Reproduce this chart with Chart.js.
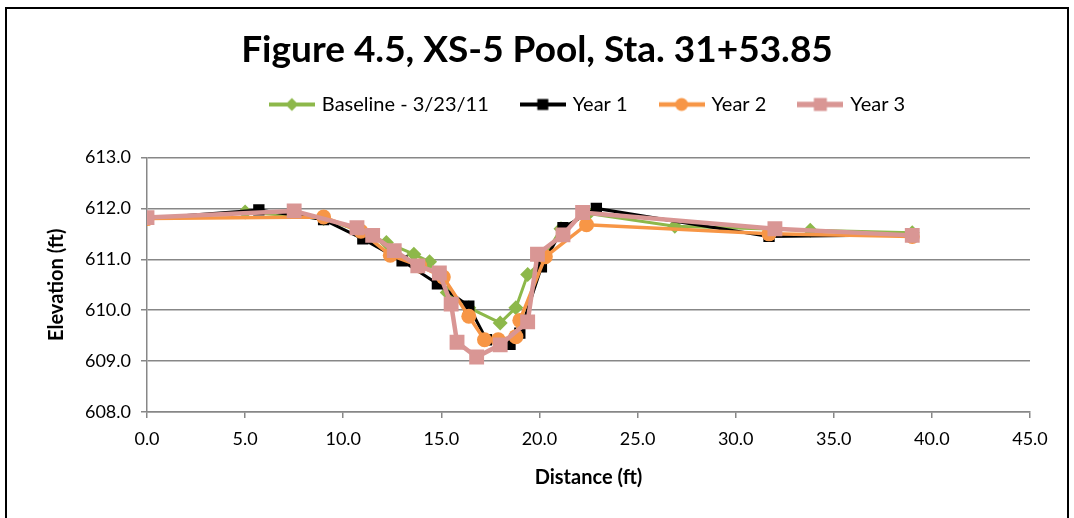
<!DOCTYPE html>
<html>
<head>
<meta charset="utf-8">
<script src="https://cdn.jsdelivr.net/npm/chart.js@4.4.1/dist/chart.umd.min.js"></script>
<style>
  html, body { margin: 0; padding: 0; background: #fff; overflow: hidden; }
  #wrap { position: relative; width: 1074px; height: 518px; }
  #frame { position: absolute; left: 5px; top: 7px; width: 1064px; height: 540px; border: 2px solid #000; box-sizing: border-box; pointer-events: none; }
  canvas { position: absolute; left: 0; top: 0; }
</style>
</head>
<body>
<div id="wrap">
  <canvas id="chart" width="1074" height="518"></canvas>
  <div id="frame"></div>
</div>
<script>
// Cross-section survey data (distance in ft, elevation in ft)
const baselineX = [0, 5.0, 9.0, 10.9, 12.2, 13.6, 14.4, 15.3, 16.4, 18.0, 18.8, 19.4, 20.1, 21.1, 22.5, 26.9, 33.8, 39.0];
const baselineY = [611.80, 611.93, 611.80, 611.55, 611.33, 611.10, 610.95, 610.35, 610.05, 609.75, 610.05, 610.70, 610.95, 611.60, 611.90, 611.65, 611.57, 611.52];

const year1X = [0, 5.7, 9.0, 11.0, 13.0, 14.8, 16.4, 17.3, 18.5, 19.0, 20.1, 21.2, 22.9, 31.7, 39.0];
const year1Y = [611.80, 611.97, 611.78, 611.40, 610.97, 610.52, 610.08, 609.42, 609.33, 609.55, 610.85, 611.62, 612.00, 611.45, 611.48];

const year2X = [0, 9.0, 10.9, 12.4, 13.9, 15.1, 16.4, 17.2, 17.9, 18.8, 19.0, 20.3, 22.4, 31.7, 39.0];
const year2Y = [611.80, 611.83, 611.55, 611.08, 610.87, 610.65, 609.88, 609.42, 609.42, 609.48, 609.80, 611.05, 611.68, 611.50, 611.45];

const year3X = [0, 7.5, 10.7, 11.5, 12.6, 13.8, 14.9, 15.5, 15.8, 16.8, 18.0, 19.4, 19.9, 21.2, 22.2, 32.0, 39.0];
const year3Y = [611.82, 611.95, 611.62, 611.47, 611.17, 610.87, 610.73, 610.12, 609.37, 609.08, 609.32, 609.77, 611.10, 611.48, 611.92, 611.60, 611.47];

const seriesNames = ['Baseline - 3/23/11', 'Year 1', 'Year 2', 'Year 3'];
const xTicks = [0, 5, 10, 15, 20, 25, 30, 35, 40, 45];
const yTicks = [608, 609, 610, 611, 612, 613];

const toPoints = (xs, ys) => xs.map((x, i) => ({ x: x, y: ys[i] }));

const FONT = "Lato, 'Open Sans', sans-serif";
const GRID = '#878787';

// Legend swatch: short line with the marker in the middle
function makeSwatch(color, style, size, lineW) {
  const c = document.createElement('canvas');
  c.width = 46; c.height = 18;
  const ctx = c.getContext('2d');
  ctx.strokeStyle = color;
  ctx.fillStyle = color;
  ctx.lineWidth = lineW;
  ctx.beginPath();
  ctx.moveTo(0, 9); ctx.lineTo(46, 9);
  ctx.stroke();
  const r = size / 2;
  ctx.beginPath();
  if (style === 'circle') {
    ctx.arc(23, 9, r, 0, Math.PI * 2);
  } else if (style === 'rectRot') {
    ctx.moveTo(23, 9 - r); ctx.lineTo(23 + r, 9); ctx.lineTo(23, 9 + r); ctx.lineTo(23 - r, 9); ctx.closePath();
  } else {
    ctx.rect(23 - r, 9 - r, size, size);
  }
  ctx.fill();
  return c;
}

const styles = [
  { color: '#8db84a', point: 'rectRot', radius: 7.5, lineW: 3, sw: 13, order: 3 },
  { color: '#000000', point: 'rect', radius: 8, lineW: 3, sw: 11, order: 2 },
  { color: '#f79646', point: 'circle', radius: 7.5, lineW: 3.5, sw: 13, order: 1 },
  { color: '#d99694', point: 'rect', radius: 10.5, lineW: 4.5, sw: 13, order: 0 }
];

const rawData = [
  toPoints(baselineX, baselineY),
  toPoints(year1X, year1Y),
  toPoints(year2X, year2Y),
  toPoints(year3X, year3Y)
];

const datasets = rawData.map((pts, i) => ({
  label: seriesNames[i],
  data: pts,
  order: styles[i].order,
  borderColor: styles[i].color,
  backgroundColor: styles[i].color,
  borderWidth: styles[i].lineW,
  pointStyle: styles[i].point,
  pointRadius: styles[i].radius,
  pointBorderWidth: 0,
  pointBackgroundColor: styles[i].color,
  tension: 0,
  fill: false
}));

const swatches = styles.map(s => makeSwatch(s.color, s.point, s.sw, s.lineW + 1));

new Chart(document.getElementById('chart'), {
  type: 'line',
  data: { datasets: datasets },
  options: {
    responsive: false,
    animation: false,
    devicePixelRatio: 1,
    layout: { padding: { top: 10, left: 44, right: 44, bottom: 26 } },
    plugins: {
      title: {
        display: true,
        text: 'Figure 4.5, XS-5 Pool, Sta. 31+53.85',
        color: '#000',
        font: { family: FONT, size: 37, weight: 'bold', lineHeight: 0.5 },
        padding: { top: 31, bottom: 1 }
      },
      // empty spacer between legend and plot area
      subtitle: {
        display: true,
        text: '',
        weight: 500,
        font: { size: 10, lineHeight: 1 },
        padding: { top: 23, bottom: 0 }
      },
      legend: {
        display: true,
        position: 'top',
        fullSize: false,
        labels: {
          color: '#000',
          font: { family: FONT, size: 20 },
          usePointStyle: true,
          pointStyleWidth: 40,
          boxHeight: 20,
          padding: 34,
          generateLabels: (chart) => chart.data.datasets.map((ds, i) => ({
            text: ds.label,
            pointStyle: swatches[i],
            fillStyle: ds.borderColor,
            strokeStyle: ds.borderColor,
            lineWidth: 0,
            hidden: false,
            datasetIndex: i
          }))
        }
      },
      tooltip: { enabled: false }
    },
    scales: {
      x: {
        type: 'linear',
        min: 0,
        max: 45,
        afterBuildTicks: (scale) => { scale.ticks = xTicks.map(v => ({ value: v })); },
        afterFit: (scale) => { scale.height = 80; },
        grid: { drawOnChartArea: false, drawTicks: true, tickLength: 6, color: GRID, lineWidth: 1.5 },
        border: { color: GRID, width: 1.5 },
        ticks: {
          color: '#000',
          font: { family: FONT, size: 18 },
          padding: 10,
          maxRotation: 0,
          callback: (v) => Number(v).toFixed(1)
        },
        title: {
          display: true,
          text: 'Distance (ft)',
          color: '#000',
          font: { family: FONT, size: 20, weight: 'bold' },
          padding: { top: 0, bottom: 2 }
        }
      },
      y: {
        type: 'linear',
        min: 608,
        max: 613,
        afterBuildTicks: (scale) => { scale.ticks = yTicks.map(v => ({ value: v })); },
        afterFit: (scale) => { scale.width = 147 - 44; },
        grid: { drawTicks: true, tickLength: 6, color: GRID, lineWidth: 1.5 },
        border: { color: GRID, width: 1.5 },
        ticks: {
          color: '#000',
          font: { family: FONT, size: 18 },
          padding: 10,
          callback: (v) => Number(v).toFixed(1)
        },
        title: {
          display: true,
          text: 'Elevation (ft)',
          color: '#000',
          font: { family: FONT, size: 20, weight: 'bold' },
          padding: { top: 1, bottom: 0 }
        }
      }
    }
  }
});
</script>
</body>
</html>
